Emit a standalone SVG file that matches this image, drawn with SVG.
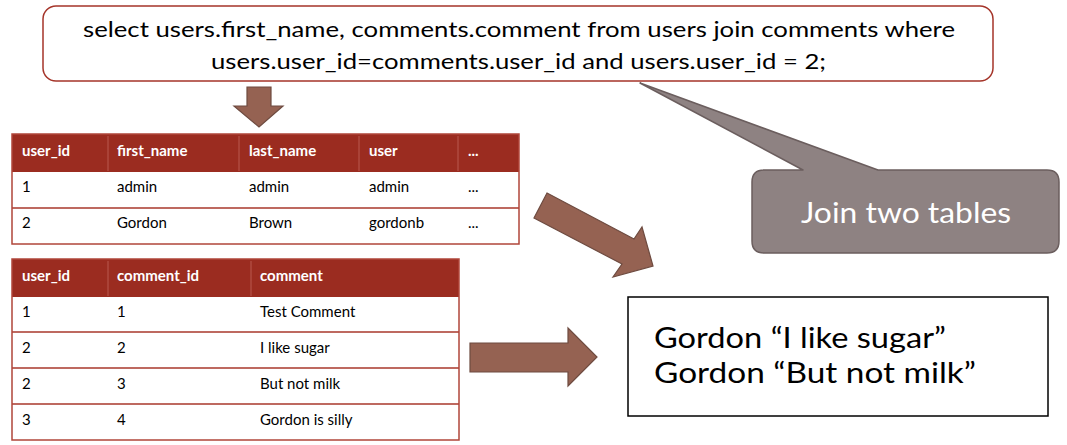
<svg xmlns="http://www.w3.org/2000/svg" width="1067" height="445" viewBox="0 0 1067 445">
<style>
.t{font-family:Lato,"Open Sans","Liberation Sans",sans-serif}
.hd{font-family:Lato,"Open Sans","Liberation Sans",sans-serif;font-size:15px;font-weight:bold;fill:#ffffff}
.cell{font-family:Lato,"Open Sans","Liberation Sans",sans-serif;font-size:15px;fill:#000000}
.hdr{fill:#9b2c20}
.tbl{fill:none;stroke:#b0463a;stroke-width:1.5}
.rowline{stroke:#a8372b;stroke-width:1.5}
.coldiv{stroke:#b9594e;stroke-width:1}
.arrow{fill:#956252;stroke:#6e4b40;stroke-width:1.2}
</style>
<rect width="1067" height="445" fill="#ffffff"/>

<g id="query">
<rect x="43" y="6" width="950" height="75" rx="13" fill="#ffffff" stroke="#a5352a" stroke-width="1.5"/>
<text class="t" x="83" y="37" font-size="22" textLength="872" lengthAdjust="spacingAndGlyphs" fill="#000">select users.first_name, comments.comment from users join comments where</text>
<text class="t" x="211" y="69" font-size="22" textLength="615" lengthAdjust="spacingAndGlyphs" fill="#000">users.user_id=comments.user_id and users.user_id = 2;</text>
</g>

<g id="users-table">
<rect class="hdr" x="12" y="134" width="507" height="38"/>
<rect x="12" y="172" width="507" height="72" fill="#ffffff"/>
<line class="coldiv" x1="108" y1="136" x2="108" y2="171"/>
<line class="coldiv" x1="239" y1="136" x2="239" y2="171"/>
<line class="coldiv" x1="359" y1="136" x2="359" y2="171"/>
<line class="coldiv" x1="458" y1="136" x2="458" y2="171"/>
<line class="rowline" x1="12" y1="208" x2="519" y2="208"/>
<rect class="tbl" x="12" y="134" width="507" height="110"/>
<text class="hd" x="22" y="156">user_id</text>
<text class="hd" x="117" y="156">first_name</text>
<text class="hd" x="249" y="156">last_name</text>
<text class="hd" x="369" y="156">user</text>
<text class="hd" x="468" y="156">...</text>
<text class="cell" x="22" y="192">1</text>
<text class="cell" x="117" y="192">admin</text>
<text class="cell" x="249" y="192">admin</text>
<text class="cell" x="369" y="192">admin</text>
<text class="cell" x="468" y="192">...</text>
<text class="cell" x="22" y="228">2</text>
<text class="cell" x="117" y="228">Gordon</text>
<text class="cell" x="249" y="228">Brown</text>
<text class="cell" x="369" y="228">gordonb</text>
<text class="cell" x="468" y="228">...</text>
</g>

<g id="comments-table">
<rect class="hdr" x="12" y="259" width="447" height="38"/>
<rect x="12" y="297" width="447" height="143" fill="#ffffff"/>
<line class="coldiv" x1="108" y1="261" x2="108" y2="296"/>
<line class="coldiv" x1="251" y1="261" x2="251" y2="296"/>
<line class="rowline" x1="12" y1="332" x2="459" y2="332"/>
<line class="rowline" x1="12" y1="368" x2="459" y2="368"/>
<line class="rowline" x1="12" y1="404" x2="459" y2="404"/>
<rect class="tbl" x="12" y="259" width="447" height="181"/>
<text class="hd" x="22" y="281">user_id</text>
<text class="hd" x="117" y="281">comment_id</text>
<text class="hd" x="260" y="281">comment</text>
<text class="cell" x="22" y="317">1</text>
<text class="cell" x="117" y="317">1</text>
<text class="cell" x="260" y="317">Test Comment</text>
<text class="cell" x="22" y="353">2</text>
<text class="cell" x="117" y="353">2</text>
<text class="cell" x="260" y="353">I like sugar</text>
<text class="cell" x="22" y="389">2</text>
<text class="cell" x="117" y="389">3</text>
<text class="cell" x="260" y="389">But not milk</text>
<text class="cell" x="22" y="425">3</text>
<text class="cell" x="117" y="425">4</text>
<text class="cell" x="260" y="425">Gordon is silly</text>
</g>

<g id="callout">
<path d="M765,170 L803,170 L640,83 L878,170 L1047,170 Q1059,170 1059,182 L1059,241 Q1059,253 1047,253 L764,253 Q752,253 752,241 L752,182 Q752,170 764,170 Z" fill="#8e8282" stroke="#6b5e5e" stroke-width="1.5" stroke-linejoin="round"/>
<text class="t" x="801" y="223" font-size="29" textLength="210" lengthAdjust="spacingAndGlyphs" fill="#ffffff">Join two tables</text>
</g>

<g id="result">
<rect x="628" y="297" width="420" height="119" fill="#ffffff" stroke="#000000" stroke-width="1.5"/>
<text class="t" x="654" y="348" font-size="28" textLength="292" lengthAdjust="spacingAndGlyphs" fill="#000">Gordon “I like sugar”</text>
<text class="t" x="654" y="383" font-size="28" textLength="322" lengthAdjust="spacingAndGlyphs" fill="#000">Gordon “But not milk”</text>
</g>

<g id="connectors">
<polygon class="arrow" points="247,87 271,87 271,106 283,106 259,127 234,106 247,106"/>
<polygon class="arrow" points="547,193 634,239 642,227 653,266 613,277 622,264 534,218"/>
<polygon class="arrow" points="470,343 568,343 568,328 597,357 568,386 568,372 470,372"/>
</g>
</svg>
